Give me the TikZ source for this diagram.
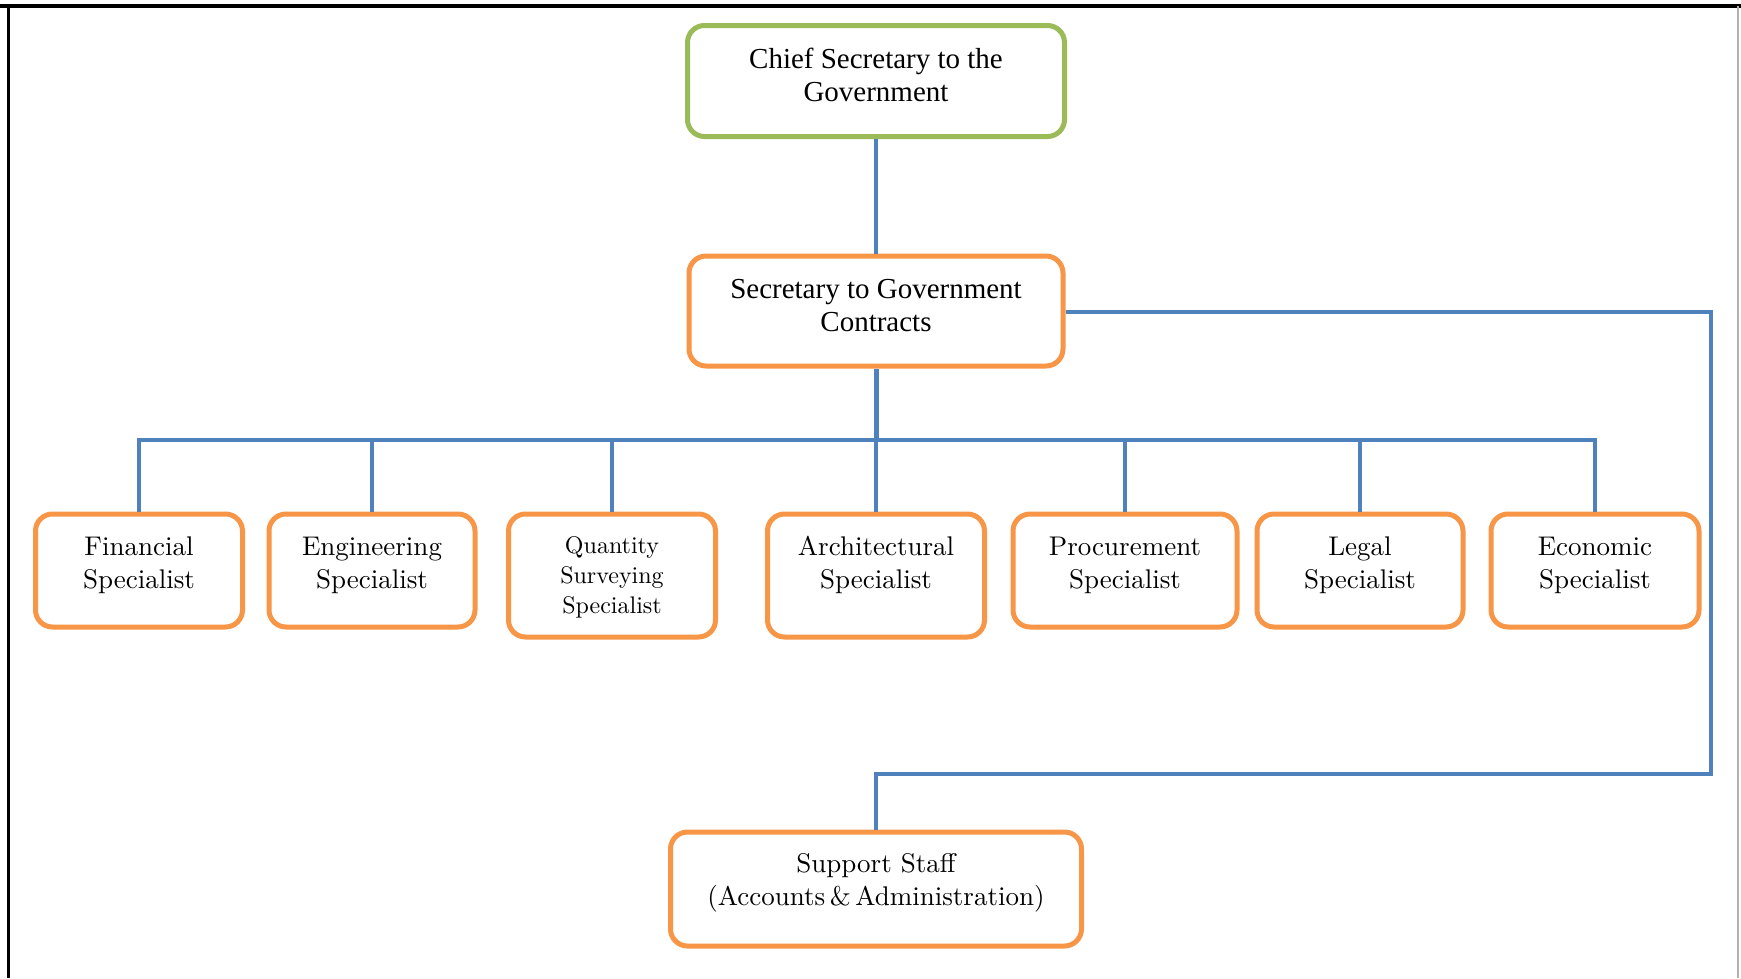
\documentclass[tikz,border=0pt]{standalone}
\usepackage{fontspec}
\newfontfamily\timesf{Liberation Serif}
\newfontfamily\camf{lmroman10-regular.otf}
\definecolor{boxgreen}{HTML}{9BBB59}
\definecolor{boxorange}{HTML}{F79646}
\definecolor{linkblue}{HTML}{4F81BD}
\begin{document}
\begin{tikzpicture}[x=1pt,y=-1pt,
  box/.style={draw=boxorange,line width=5pt,rounded corners=17pt,fill=white,inner sep=0pt},
  topbox/.style={box,draw=boxgreen},
  txt/.style={align=center,inner sep=0pt,font=\camf\fontsize{27}{33}\selectfont},
  ttxt/.style={align=center,inner sep=0pt,font=\timesf\fontsize{29}{33}\selectfont},
  qtxt/.style={align=center,inner sep=0pt,font=\camf\fontsize{24}{30}\selectfont},
  link/.style={draw=linkblue,line width=4pt}]
\useasboundingbox (0,0) rectangle (1741,978);
% frame
\draw[line width=4pt,black] (0,6) -- (1741,6);
\draw[line width=3pt,black] (8,4) -- (8,978);
\draw[line width=2pt,black!30] (1738,6) -- (1738,978);

% boxes
\node[topbox,minimum width=377pt,minimum height=111pt] (chief) at (876,81) {};
\node[box,minimum width=374pt,minimum height=110pt] (sec) at (876,311) {};
\node[box,minimum width=207pt,minimum height=113pt] (fin) at (139,570.5) {};
\node[box,minimum width=206pt,minimum height=113pt] (eng) at (372,570.5) {};
\node[box,minimum width=207pt,minimum height=123pt] (qs) at (612,575.5) {};
\node[box,minimum width=217pt,minimum height=123pt] (arch) at (876,575.5) {};
\node[box,minimum width=224pt,minimum height=113pt] (proc) at (1125,570.5) {};
\node[box,minimum width=206pt,minimum height=113pt] (legal) at (1360,570.5) {};
\node[box,minimum width=208pt,minimum height=113pt] (econ) at (1595,570.5) {};
\node[box,minimum width=411pt,minimum height=114pt] (sup) at (876,889) {};

% texts
\node[ttxt] (chiefT) at (876,75) {Chief Secretary to the\\Government};
\node[ttxt] (secT) at (876,306) {Secretary to Government\\Contracts};
\node[txt] (finT) at (139,565) {Financial\\Specialist};
\node[txt] (engT) at (372,565) {Engineering\\Specialist};
\node[qtxt] (qsT) at (612,577) {Quantity\\Surveying\\Specialist};
\node[txt] (archT) at (876,565) {Architectural\\Specialist};
\node[txt] (procT) at (1125,565) {Procurement\\Specialist};
\node[txt] (legalT) at (1360,565) {Legal\\Specialist};
\node[txt] (econT) at (1595,565) {Economic\\Specialist};
\node[txt] (supT) at (876,883) {Support Staff\\(Accounts\,\&\,Administration)};

% connectors
\coordinate (bus) at (876,440);
\draw[link] (chief.south) -- (sec.north);
\draw[link,line width=5pt] (sec.south) -- (bus);
\draw[link,line cap=rect] (139,440) -- (1595,440);
\foreach \n/\x in {fin/139,eng/372,qs/612,arch/876,proc/1125,legal/1360,econ/1595}
  \draw[link] (\x,440) -- (\n.north);
\coordinate (r1) at (1711,312);
\coordinate (r2) at (1711,774);
\coordinate (r3) at (876,774);
\draw[link] (sec.east |- r1) -- (r1) -- (r2) -- (r3) -- (sup.north);
\end{tikzpicture}
\end{document}
